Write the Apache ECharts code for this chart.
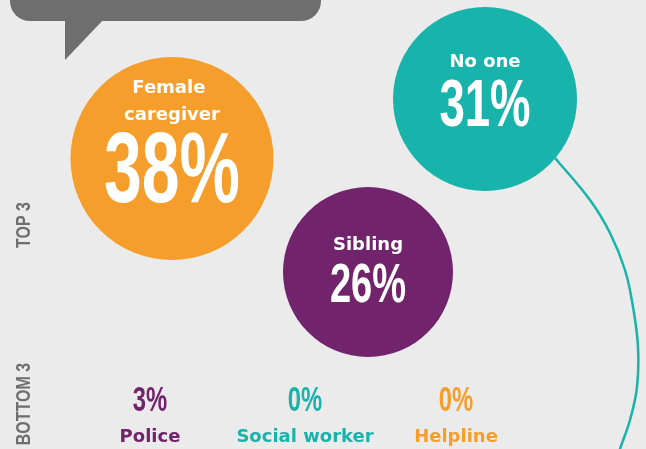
<!DOCTYPE html>
<html>
<head>
<meta charset="utf-8">
<script src="https://cdn.jsdelivr.net/npm/echarts@6/dist/echarts.min.js"></script>
<style>
  html, body { margin: 0; padding: 0; background: #ebebeb; }
  #chart { width: 646px; height: 449px; }
</style>
</head>
<body>
<div id="chart"></div>
<script>
// data
const topNames = ['Female caregiver', 'No one', 'Sibling']
const topValues = [38, 31, 26]
const bottomNames = ['Police', 'Social worker', 'Helpline']
const bottomValues = [3, 0, 0]
const groupLabels = ['TOP 3', 'BOTTOM 3']

// layout (pixels)
const topCenters = [[172, 158.5], [485, 99], [368, 272]]
const topRadius = [101.5, 92, 85]
const topNameY = [102, 62.5, 245.5]
const topValueY = [174, 107.5, 287]
const topValueSize = [100, 67, 56]
const bottomX = [150, 305, 456]
const bottomValueY = 401.5
const bottomNameY = 437

const ORANGE = '#f59e2b'
const TEAL = '#18b3aa'
const PURPLE = '#71236b'
const GREY = '#6e6e6e'
const topColors = [ORANGE, TEAL, PURPLE]
const bottomColors = [PURPLE, TEAL, ORANGE]

const NUM_FONT = '"Liberation Sans", Arial, sans-serif'
const LABEL_FONT = '"DejaVu Sans", sans-serif'
const SQUEEZE = 0.68

const chart = echarts.init(document.getElementById('chart'))

const renderTop = (params, api) => {
  const i = params.dataIndex
  const c = api.coord([api.value(0), api.value(1)])
  const nameY = api.coord([0, topNameY[i]])[1]
  const valY = api.coord([0, topValueY[i]])[1]
  return {
    type: 'group',
    children: [
      { type: 'circle', shape: { cx: c[0], cy: c[1], r: topRadius[i] }, style: { fill: topColors[i] } },
      {
        type: 'text', x: c[0], y: nameY,
        style: {
          text: topNames[i], width: 130, overflow: 'break', lineHeight: 27,
          fill: '#fff', font: 'bold 18px ' + LABEL_FONT, align: 'center', verticalAlign: 'middle'
        }
      },
      {
        type: 'text', x: c[0], y: valY, scaleX: SQUEEZE,
        style: {
          text: api.value(2) + '%', fill: '#fff',
          font: 'bold ' + topValueSize[i] + 'px ' + NUM_FONT, align: 'center', verticalAlign: 'middle'
        }
      }
    ]
  }
}

const renderBottom = (params, api) => {
  const i = params.dataIndex
  const c = api.coord([api.value(0), api.value(1)])
  const nameY = api.coord([0, bottomNameY])[1]
  return {
    type: 'group',
    children: [
      {
        type: 'text', x: c[0], y: c[1], scaleX: SQUEEZE,
        style: {
          text: api.value(2) + '%', fill: bottomColors[i],
          font: 'bold 35px ' + NUM_FONT, align: 'center', verticalAlign: 'middle'
        }
      },
      {
        type: 'text', x: c[0], y: nameY,
        style: {
          text: bottomNames[i], fill: bottomColors[i],
          font: 'bold 18px ' + LABEL_FONT, align: 'center', verticalAlign: 'middle'
        }
      }
    ]
  }
}

const option = {
  backgroundColor: '#ebebeb',
  animation: false,
  grid: { left: 0, right: 0, top: 0, bottom: 0 },
  xAxis: { type: 'value', min: 0, max: 646, show: false },
  yAxis: { type: 'value', min: 0, max: 449, inverse: true, show: false },
  graphic: [
    // speech bubble
    { type: 'rect', shape: { x: 10, y: -40, width: 311, height: 61, r: 20 }, style: { fill: GREY } },
    { type: 'polygon', shape: { points: [[65, 18], [105, 18], [65, 60]] }, style: { fill: GREY } },
    // connector line from "No one"
    {
      type: 'polyline', z: -1,
      shape: {
        points: [[548, 150], [555, 158], [590, 200], [610, 233], [625, 270], [633, 307],
          [638, 347], [637, 387], [630, 420], [620, 449], [617, 460]],
        smooth: 0.4
      },
      style: { stroke: TEAL, lineWidth: 2.5, fill: null }
    },
    // side labels
    {
      type: 'text', x: 24, y: 225, rotation: Math.PI / 2, scaleX: 0.8,
      style: { text: groupLabels[0], fill: GREY, font: 'bold 20px ' + NUM_FONT, align: 'center', verticalAlign: 'middle' }
    },
    {
      type: 'text', x: 24, y: 404, rotation: Math.PI / 2, scaleX: 0.8,
      style: { text: groupLabels[1], fill: GREY, font: 'bold 20px ' + NUM_FONT, align: 'center', verticalAlign: 'middle' }
    }
  ],
  series: [
    {
      type: 'custom',
      renderItem: renderTop,
      data: topValues.map((v, i) => [topCenters[i][0], topCenters[i][1], v])
    },
    {
      type: 'custom',
      renderItem: renderBottom,
      data: bottomValues.map((v, i) => [bottomX[i], bottomValueY, v])
    }
  ]
}

chart.setOption(option)
</script>
</body>
</html>
